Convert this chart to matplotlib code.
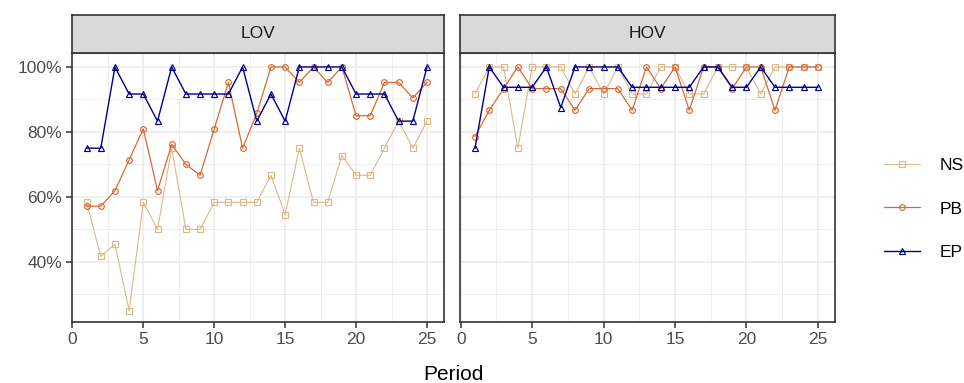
import numpy as np
import matplotlib
matplotlib.use("Agg")
import matplotlib.pyplot as plt
from matplotlib.ticker import FixedLocator, FuncFormatter

plt.rcParams['font.family'] = ['Liberation Sans', 'DejaVu Sans']

# Data (percent correct by period)
period = [1, 2, 3, 4, 5, 6, 7, 8, 9, 10, 11, 12, 13,
          14, 15, 16, 17, 18, 19, 20, 21, 22, 23, 24, 25]

lov_ns = [58.33, 41.67, 45.45, 25, 58.33, 50, 75, 50, 50, 58.33, 58.33, 58.33, 58.33,
          66.67, 54.55, 75, 58.33, 58.33, 72.73, 66.67, 66.67, 75, 83.33, 75, 83.33]
lov_pb = [57.14, 57.14, 61.9, 71.43, 80.95, 61.9, 76.19, 70, 66.67, 80.95, 95.24, 75, 85.71,
          100, 100, 95.24, 100, 95.24, 100, 85, 85, 95.24, 95.24, 90.48, 95.24]
lov_ep = [75, 75, 100, 91.67, 91.67, 83.33, 100, 91.67, 91.67, 91.67, 91.67, 100, 83.33,
          91.67, 83.33, 100, 100, 100, 100, 91.67, 91.67, 91.67, 83.33, 83.33, 100]

hov_ns = [91.67, 100, 100, 75, 100, 100, 100, 91.67, 100, 91.67, 100, 91.67, 91.67,
          100, 100, 91.67, 91.67, 100, 100, 100, 91.67, 100, 100, 100, 100]
hov_pb = [78.57, 86.67, 93.33, 100, 93.33, 93.33, 93.33, 86.67, 93.33, 93.33, 93.33, 86.67, 100,
          93.33, 100, 86.67, 100, 100, 93.33, 100, 100, 86.67, 100, 100, 100]
hov_ep = [75, 100, 93.75, 93.75, 93.75, 100, 87.5, 100, 100, 100, 100, 93.75, 93.75,
          93.75, 93.75, 93.75, 100, 100, 93.75, 93.75, 100, 93.75, 93.75, 93.75, 93.75]

panels = ["LOV", "HOV"]
series_names = ["NS", "PB", "EP"]
panel_data = {"LOV": [lov_ns, lov_pb, lov_ep], "HOV": [hov_ns, hov_pb, hov_ep]}

colors = {"NS": "#DEB887", "PB": "#DA6A32", "EP": "#00008B"}
markers = {"NS": "s", "PB": "o", "EP": "^"}
msizes = {"NS": 3.9, "PB": 4.1, "EP": 5.0}
lwidths = {"NS": 0.8, "PB": 0.9, "EP": 1.0}

W, H = 964, 383
fig = plt.figure(figsize=(W / 100, H / 100), dpi=100)

# panel boxes in pixels: (left, right)
panel_x = {"LOV": (71.7, 444), "HOV": (460, 835)}
top_px, bot_px = 53, 322
strip_top = 15

border = "#333333"
handles = []
for i, name in enumerate(panels):
    l, r = panel_x[name]
    ax = fig.add_axes([l / W, 1 - bot_px / H, (r - l) / W, (bot_px - top_px) / H])
    for j, s in enumerate(series_names):
        ln, = ax.plot(period, panel_data[name][j], color=colors[s], marker=markers[s],
                      ms=msizes[s], mfc="none", mec=colors[s], mew=0.85,
                      lw=lwidths[s], zorder=3 + j, label=s)
        if i == 0:
            handles.append(ln)
    ax.set_xlim(-0.05, 26.2)
    ax.set_ylim(21.5, 104.3)
    ax.xaxis.set_major_locator(FixedLocator([0, 5, 10, 15, 20, 25]))
    ax.xaxis.set_minor_locator(FixedLocator([2.5, 7.5, 12.5, 17.5, 22.5]))
    ax.yaxis.set_major_locator(FixedLocator([40, 60, 80, 100]))
    ax.yaxis.set_minor_locator(FixedLocator([30, 50, 70, 90]))
    ax.yaxis.set_major_formatter(FuncFormatter(lambda v, p: f"{v:.0f}%"))
    ax.grid(True, which="major", color="#EBEBEB", lw=1.1, zorder=0)
    ax.grid(True, which="minor", color="#EBEBEB", lw=0.55, zorder=0)
    ax.set_axisbelow(True)
    for sp in ax.spines.values():
        sp.set_color(border)
        sp.set_linewidth(1.2)
    ax.tick_params(which="major", length=4.5, width=1.1, color=border,
                   labelsize=12.5, labelcolor="#4D4D4D", pad=2.5)
    ax.tick_params(which="minor", length=0)
    if i > 0:
        ax.tick_params(axis="y", which="both", left=False, labelleft=False)

    # facet strip
    sax = fig.add_axes([l / W, 1 - top_px / H, (r - l) / W, (top_px - strip_top) / H])
    sax.set_facecolor("#D9D9D9")
    sax.set_xticks([])
    sax.set_yticks([])
    for sp in sax.spines.values():
        sp.set_color(border)
        sp.set_linewidth(1.2)
    sax.text(0.5, 0.5, name, ha="center", va="center", fontsize=12.5,
             color="#1A1A1A", transform=sax.transAxes)

fig.text(453 / W, 1 - 374 / H, "Period", ha="center", va="center", fontsize=15)

fig.legend(handles=handles, labels=series_names, loc="center left",
           bbox_to_anchor=(868 / W, 1 - 209 / H), frameon=False,
           fontsize=12.5, handlelength=2.1, handletextpad=1.15, labelspacing=1.65)

fig.savefig("out.png", dpi=100)
